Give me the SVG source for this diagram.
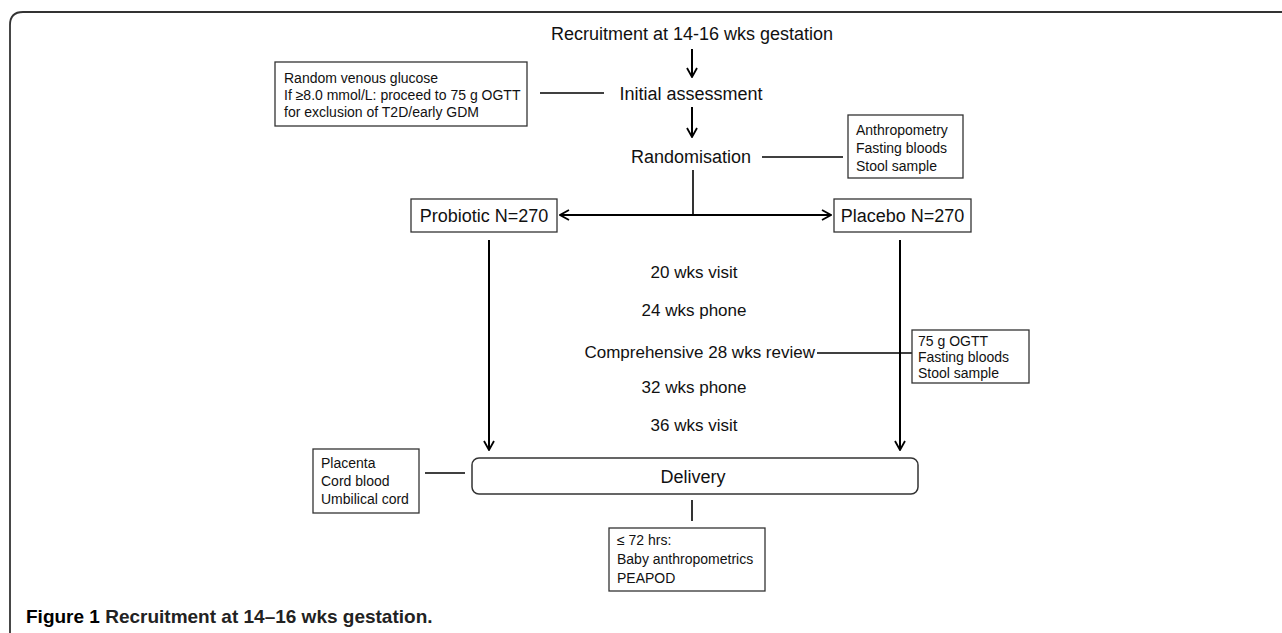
<svg xmlns="http://www.w3.org/2000/svg" width="1282" height="633" viewBox="0 0 1282 633">
<defs>
<marker id="arr" viewBox="0 0 12 12" refX="11" refY="6" markerWidth="12" markerHeight="12" markerUnits="userSpaceOnUse" orient="auto">
<path d="M2,1 L11,6 L2,11" fill="none" stroke="#000" stroke-width="1.8"/>
</marker>
<style>
text{font-family:"Liberation Sans",Arial,sans-serif;fill:#111;}
.lg{font-size:18px;}
.md{font-size:17px;}
.sm{font-size:14px;}
.box{fill:#fff;stroke:#333;stroke-width:1.3;}
.arrow{fill:none;stroke:#000;stroke-width:2;marker-end:url(#arr);}
.link{fill:none;stroke:#000;stroke-width:1.6;}
.cap{font-size:19px;font-weight:bold;}
</style>
</defs>
<rect width="1282" height="633" fill="#fff"/>
<path d="M10,633 V25 Q10,12 23,12 H1282" fill="none" stroke="#333" stroke-width="1.8"/>

<g id="connectors">
<line class="arrow" x1="692" y1="49" x2="692" y2="77"/>
<line class="arrow" x1="692" y1="107" x2="692" y2="137"/>
<line class="link" x1="540" y1="93" x2="604" y2="93"/>
<line class="link" x1="762" y1="157" x2="843" y2="157"/>
<line class="link" x1="693" y1="170" x2="693" y2="215"/>
<line class="arrow" x1="693" y1="215" x2="560" y2="215"/>
<line class="arrow" x1="693" y1="215" x2="831" y2="215"/>
<line class="arrow" x1="489" y1="240" x2="489" y2="450"/>
<line class="arrow" x1="900" y1="240" x2="900" y2="450"/>
<line class="link" x1="817" y1="353" x2="912" y2="353"/>
<line class="link" x1="425" y1="473" x2="465" y2="473"/>
<line class="link" x1="692" y1="500" x2="692" y2="521"/>
</g>

<g id="recruitment"><text class="lg" x="692" y="40" text-anchor="middle">Recruitment at 14-16 wks gestation</text></g>

<g id="glucose-box">
<rect class="box" x="275" y="62" width="252" height="64"/>
<text class="sm" x="284" y="83">Random venous glucose</text>
<text class="sm" x="284" y="100">If ≥8.0 mmol/L: proceed to 75 g OGTT</text>
<text class="sm" x="284" y="117">for exclusion of T2D/early GDM</text>
</g>

<g id="initial-assessment"><text class="lg" x="691" y="100" text-anchor="middle">Initial assessment</text></g>

<g id="randomisation"><text class="lg" x="691" y="163" text-anchor="middle">Randomisation</text></g>

<g id="anthropometry-box">
<rect class="box" x="848" y="115" width="115" height="63"/>
<text class="sm" x="856" y="135">Anthropometry</text>
<text class="sm" x="856" y="153">Fasting bloods</text>
<text class="sm" x="856" y="171">Stool sample</text>
</g>

<g id="probiotic">
<rect class="box" x="411" y="199" width="146" height="33"/>
<text class="lg" x="484" y="222" text-anchor="middle">Probiotic N=270</text>
</g>

<g id="placebo">
<rect class="box" x="834" y="199" width="137" height="33"/>
<text class="lg" x="902.500" y="222" text-anchor="middle">Placebo N=270</text>
</g>

<g id="timeline">
<text class="md" x="694" y="278" text-anchor="middle">20 wks visit</text>
<text class="md" x="694" y="316" text-anchor="middle">24 wks phone</text>
<text class="md" x="815" y="358" text-anchor="end">Comprehensive 28 wks review</text>
<text class="md" x="694" y="393" text-anchor="middle">32 wks phone</text>
<text class="md" x="694" y="431" text-anchor="middle">36 wks visit</text>
</g>

<g id="ogtt-box">
<rect class="box" x="912" y="330" width="117" height="53"/>
<text class="sm" x="918" y="346">75 g OGTT</text>
<text class="sm" x="918" y="362">Fasting bloods</text>
<text class="sm" x="918" y="378">Stool sample</text>
</g>

<g id="placenta-box">
<rect class="box" x="313" y="449" width="106" height="64"/>
<text class="sm" x="321" y="468">Placenta</text>
<text class="sm" x="321" y="486">Cord blood</text>
<text class="sm" x="321" y="504">Umbilical cord</text>
</g>

<g id="delivery">
<rect x="472" y="458" width="446" height="36" rx="7" fill="#fff" stroke="#333" stroke-width="1.5"/>
<text class="lg" x="693" y="483" text-anchor="middle">Delivery</text>
</g>

<g id="baby-box">
<rect class="box" x="609" y="528" width="156" height="63"/>
<text class="sm" x="617" y="545">≤ 72 hrs:</text>
<text class="sm" x="617" y="564">Baby anthropometrics</text>
<text class="sm" x="617" y="583">PEAPOD</text>
</g>

<g id="caption">
<text class="cap" x="26" y="623"><tspan fill="#000">Figure 1</tspan><tspan fill="#222"> Recruitment at 14–16 wks gestation.</tspan></text>
</g>
</svg>
